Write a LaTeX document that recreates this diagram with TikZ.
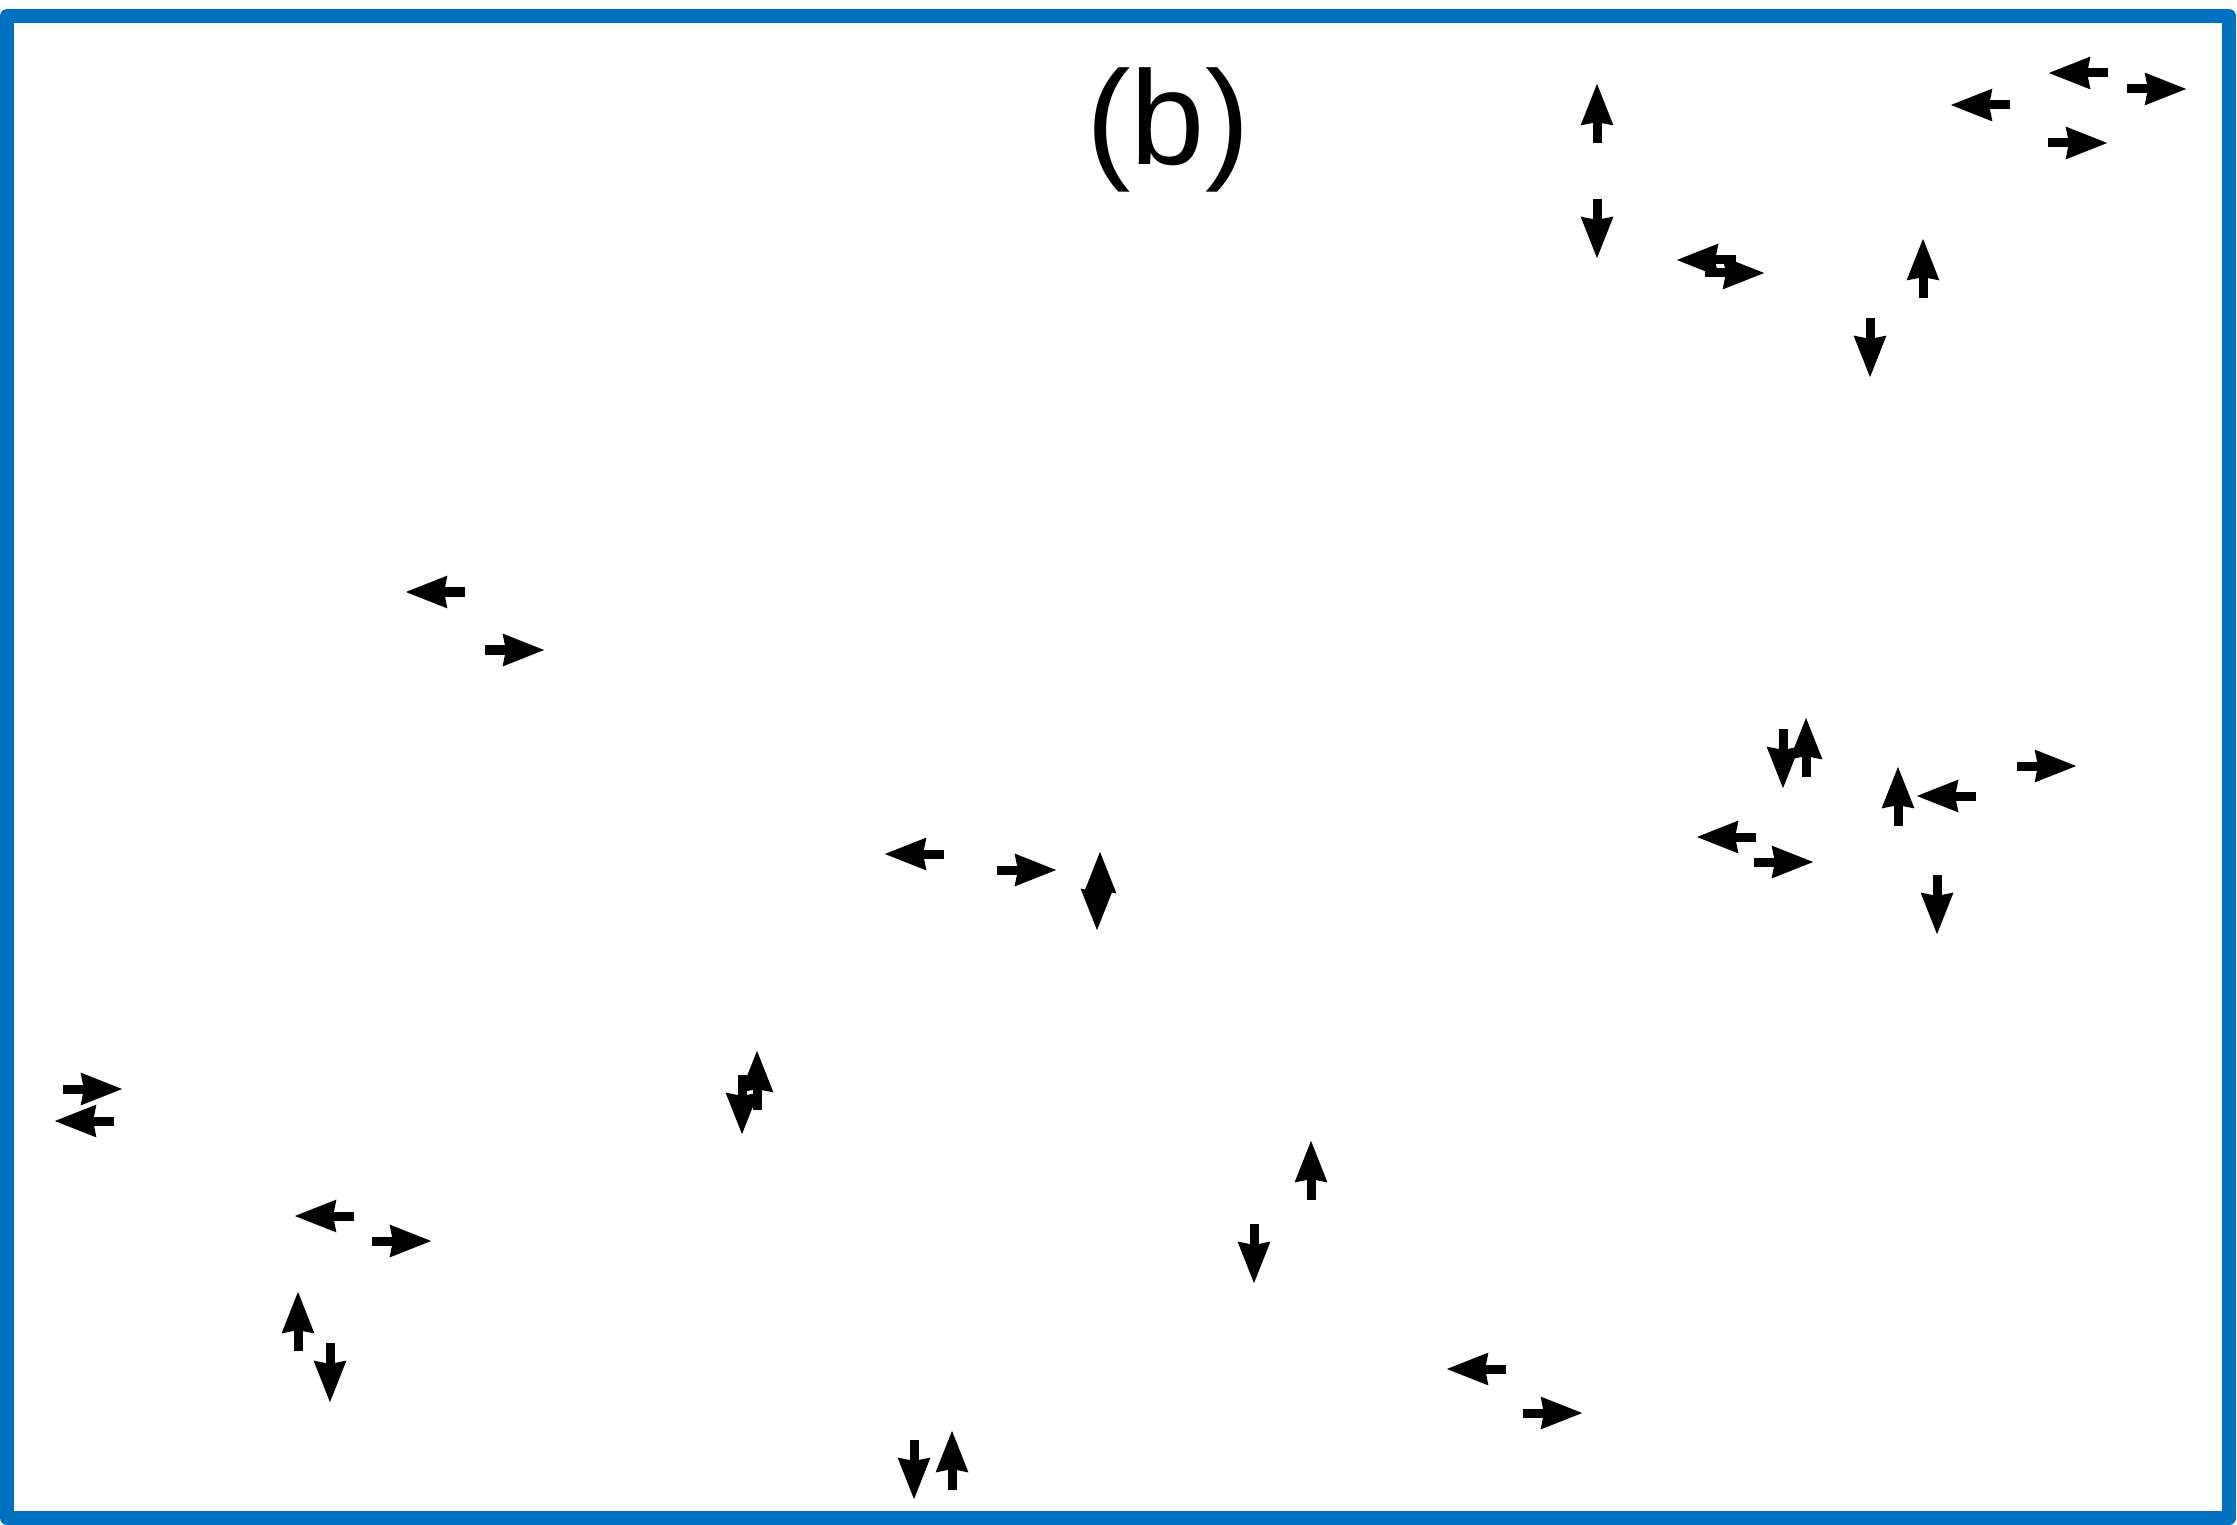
\documentclass[tikz,border=0pt]{standalone}
\usepackage{fontspec}
\setmainfont{Liberation Sans}
\usepackage{xcolor}
\usepackage{tikz}
\usetikzlibrary{arrows.meta}
\definecolor{frameblue}{RGB}{0,112,192}

\begin{document}
\begin{tikzpicture}[x=0.01cm, y=-0.01cm,
  v/.style={line width=0.09cm, -{Stealth[length=0.41cm, width=0.30cm, inset=0.02cm]}},
  fr/.style={draw=frameblue, line width=0.14cm, line join=round}]
\useasboundingbox (0,0) rectangle (2237,1525);
\draw[fr] (7,16) rectangle (2229,1518);
\node[font=\fontsize{38}{44}\selectfont, anchor=base, inner sep=0pt] (lbl) at (1168,165) {(b)};
% right
\foreach \x/\y in {1705/273, 2127/89, 2048/143, 485/650, 997/870, 2017/766, 1754/862, 63/1089, 372/1241, 1523/1413}
  \draw[v] (\x,\y) -- ++(60,0);
% left
\foreach \x/\y in {1736/260, 2010/105, 2108/73, 465/592, 944/854, 1976/796, 1756/837, 114/1121, 354/1216, 1506/1369}
  \draw[v] (\x,\y) -- ++(-60,0);
% up
\foreach \x/\y in {1597/143, 1923/298, 1100/911, 1806/777, 1898/826, 298/1351, 757/1110, 952/1490, 1311/1200}
  \draw[v] (\x,\y) -- ++(0,-60);
% down
\foreach \x/\y in {1597/199, 1870/318, 1097/871, 1783/729, 1937/875, 330/1343, 742/1075, 914/1440, 1254/1224}
  \draw[v] (\x,\y) -- ++(0,60);
\end{tikzpicture}
\end{document}
